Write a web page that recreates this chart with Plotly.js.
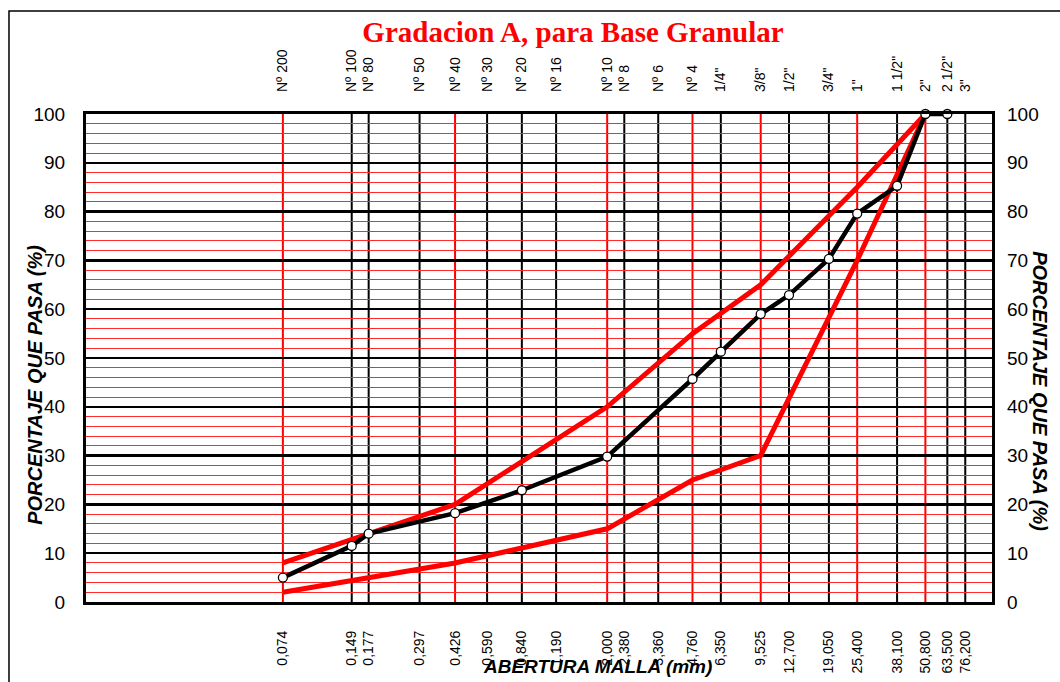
<!DOCTYPE html>
<html>
<head>
<meta charset="utf-8">
<script src="https://cdn.plot.ly/plotly-3.0.1.min.js"></script>
<style>html,body{margin:0;padding:0;background:#fff;}#chart{width:1060px;height:682px;}</style>
</head>
<body>
<div id="chart"></div>
<script>
// Sieve openings (mm), bottom labels and sieve names
const sieveMm = [0.074,0.149,0.177,0.297,0.426,0.59,0.84,1.19,2.0,2.38,3.36,4.76,6.35,9.525,12.7,19.05,25.4,38.1,50.8,63.5,76.2];
const sieveMmLabels = ['0,074','0,149','0,177','0,297','0,426','0,590','0,840','1,190','2,000','2,380','3,360','4,760','6,350','9,525','12,700','19,050','25,400','38,100','50,800','63,500','76,200'];
const sieveNames = ['Nº 200','Nº 100','Nº 80','Nº 50','Nº 40','Nº 30','Nº 20','Nº 16','Nº 10','Nº 8','Nº 6','Nº 4','1/4"','3/8"','1/2"','3/4"','1"','1 1/2"','2"','2 1/2"','3"'];

// Specification band (Gradación A)
const specMm = [0.074,0.426,2.0,4.76,9.525,25.4,50.8];
const specLower = [2,8,15,25,30,70,100];
const specUpper = [8,20,40,55,65,85,100];

// Sample gradation
const sampleMm = [0.074,0.149,0.177,0.426,0.84,2.0,4.76,6.35,9.525,12.7,19.05,25.4,38.1,50.8,63.5];
const samplePass = [5,11.5,14,18.2,22.9,29.8,45.7,51.3,59,62.9,70.3,79.6,85.3,100,100];

const yTicks = [0,10,20,30,40,50,60,70,80,90,100];

const FONT = 'Liberation Sans, Arial, sans-serif';

const traces = [
  {x: specMm, y: specLower, xaxis:'x', yaxis:'y', mode:'lines', line:{color:'#ff0000', width:5}, cliponaxis:false, hoverinfo:'skip', showlegend:false},
  {x: specMm, y: specUpper, xaxis:'x', yaxis:'y', mode:'lines', line:{color:'#ff0000', width:5}, cliponaxis:false, hoverinfo:'skip', showlegend:false},
  {x: sampleMm, y: samplePass, xaxis:'x2', yaxis:'y2', mode:'lines+markers', line:{color:'#000000', width:4.5},
   marker:{symbol:'circle', size:9, color:'#ffffff', line:{color:'#000000', width:1.3}}, cliponaxis:false, hoverinfo:'skip', showlegend:false}
];

const vLines = sieveMm.map(v => ({
  type:'line', xref:'x', yref:'paper', x0:v, x1:v, y0:0, y1:1, layer:'below',
  line:{color: specMm.includes(v) ? '#ff0000' : '#000000', width:2}
}));

const border = {type:'rect', xref:'paper', yref:'paper', x0:-0.085, x1:1.2, y0:-0.3, y1:1.211, line:{color:'#000', width:1.5}, layer:'below'};

const layout = {
  width:1060, height:682,
  margin:{l:86, r:68, t:114, b:80, pad:0},
  paper_bgcolor:'#ffffff', plot_bgcolor:'#ffffff',
  font:{family:FONT, color:'#000'},
  title:{text:'<b>Gradacion A, para Base Granular</b>', font:{family:'Liberation Serif, Times New Roman, serif', size:29, color:'#ff0000'},
         xref:'container', yref:'container', x:0.5406, xanchor:'center', y:1-32/682, yanchor:'middle'},
  xaxis:{type:'log', range:[-2,2], tickmode:'array', tickvals:sieveMm, ticktext:sieveMmLabels, tickangle:-90,
         tickfont:{family:FONT, size:14}, showgrid:false, zeroline:false, ticks:'', ticklabelstandoff:20,
         showline:true, linecolor:'#000', linewidth:3, mirror:true, fixedrange:true},
  xaxis2:{type:'log', range:[-2,2], overlaying:'x', side:'top', anchor:'y2', tickmode:'array', tickvals:sieveMm, ticktext:sieveNames,
          tickangle:-90, tickfont:{family:FONT, size:14}, showgrid:false, zeroline:false, ticks:'', ticklabelstandoff:21, fixedrange:true},
  yaxis:{range:[0,100], tickmode:'array', tickvals:yTicks, tickfont:{family:FONT, size:19}, showgrid:true, gridcolor:'#000', gridwidth:2.5,
         minor:{dtick:2, showgrid:true, gridcolor:'#ff2a2a', gridwidth:1, ticks:''},
         zeroline:false, ticks:'', ticklabelstandoff:14, showline:true, linecolor:'#000', linewidth:3, mirror:true, fixedrange:true},
  yaxis2:{range:[0,100], overlaying:'y', side:'right', anchor:'x2', tickmode:'array', tickvals:yTicks, tickfont:{family:FONT, size:19},
          showgrid:false, zeroline:false, ticks:'', ticklabelstandoff:14, fixedrange:true},
  shapes:[border].concat(vLines),
  annotations:[
    {text:'<b><i>ABERTURA MALLA (mm)</i></b>', xref:'paper', yref:'paper', x:0.565, y:-0.133, xanchor:'center', yanchor:'middle', showarrow:false,
     font:{family:FONT, size:19, color:'#000'}},
    {text:'<b><i>PORCENTAJE QUE PASA (%)</i></b>', xref:'paper', yref:'paper', x:-0.0563, y:0.445, xanchor:'center', yanchor:'middle', textangle:-90, showarrow:false,
     font:{family:FONT, size:20, color:'#000'}},
    {text:'<b><i>PORCENTAJE QUE PASA (%)</i></b>', xref:'paper', yref:'paper', x:1.053, y:0.432, xanchor:'center', yanchor:'middle', textangle:90, showarrow:false,
     font:{family:FONT, size:20, color:'#000'}}
  ]
};

Plotly.newPlot('chart', traces, layout, {displayModeBar:false, staticPlot:true});
</script>
</body>
</html>
